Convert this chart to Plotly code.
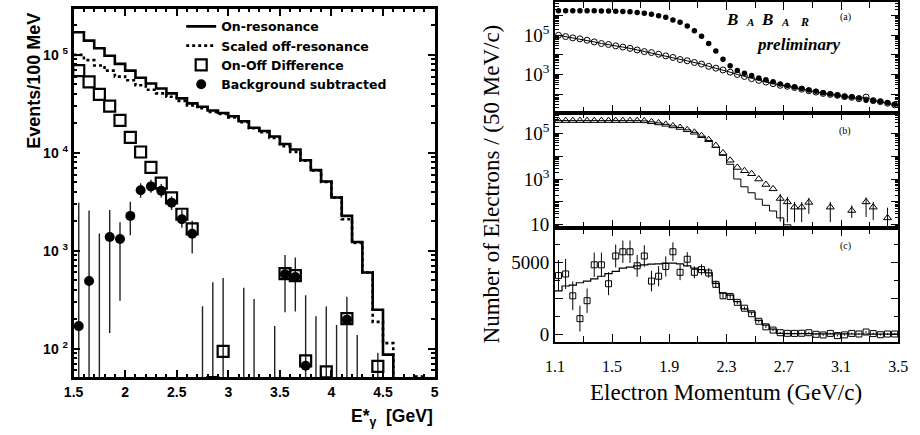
import numpy as np
import plotly.graph_objects as go

# ---------------- Left panel: photon spectrum (0.1 GeV bins) ----------------
on_bin_lo = [1.5, 1.6, 1.7, 1.8, 1.9, 2.0, 2.1, 2.2, 2.3, 2.4, 2.5, 2.6, 2.7, 2.8, 2.9,
             3.0, 3.1, 3.2, 3.3, 3.4, 3.5, 3.6, 3.7, 3.8, 3.9, 4.0, 4.1, 4.2, 4.3, 4.4, 4.5, 4.6]
on_res = [1.70e5, 1.40e5, 1.17e5, 9.8e4, 8.1e4, 6.9e4, 5.85e4, 5.1e4, 4.54e4, 4.05e4,
          3.6e4, 3.2e4, 2.95e4, 2.7e4, 2.55e4, 2.36e4, 2.1e4, 1.8e4, 1.67e4, 1.47e4,
          1.23e4, 1.08e4, 8.4e3, 6.65e3, 5.1e3, 3.5e3, 2.27e3, 1.23e3, 600, 250, 87, 10]

off_bin_lo = [1.5, 1.6, 1.7, 1.8, 1.9, 2.0, 2.1, 2.2, 2.3, 2.4, 2.5, 2.6, 2.7, 2.8, 2.9,
              3.0, 3.1, 3.2, 3.3, 3.4, 3.5, 3.6, 3.7, 3.8, 3.9, 4.0, 4.1, 4.2, 4.3, 4.4, 4.5,
              4.6, 4.7, 4.8, 4.9]
off_res = [1.0e5, 8.85e4, 7.8e4, 6.9e4, 6.0e4, 5.5e4, 4.9e4, 4.4e4, 4.05e4, 3.74e4,
           3.38e4, 3.05e4, 2.85e4, 2.62e4, 2.5e4, 2.3e4, 2.05e4, 1.78e4, 1.62e4, 1.42e4,
           1.17e4, 1.02e4, 8.3e3, 6.6e3, 5.05e3, 3.5e3, 2.1e3, 1.2e3, 600, 188, 114,
           20, 20, 52, 10]

diff_x = [1.55, 1.65, 1.75, 1.85, 1.95, 2.05, 2.15, 2.25, 2.35, 2.45, 2.55, 2.65,
          2.85, 2.95, 3.55, 3.65, 3.75, 3.95, 4.15, 4.45]
diff_y = [6.9e4, 5.3e4, 3.95e4, 3.0e4, 2.14e4, 1.44e4, 1.02e4, 7.1e3, 4.9e3, 3.47e3,
          2.36e3, 1.67e3, 45, 94, 585, 558, 75, 58, 203, 66]

bg_x = [1.55, 1.65, 1.75, 1.85, 1.95, 2.05, 2.15, 2.25, 2.35, 2.45, 2.55, 2.65, 2.75,
        2.85, 2.95, 3.15, 3.25, 3.45, 3.55, 3.65, 3.75, 3.85, 3.95, 4.05, 4.15, 4.25, 4.45]
bg_y = [170, 490, None, 1380, 1320, 2270, 4140, 4540, 4100, 3100, 2100, 1490, None,
        45, None, None, None, None, 575, 540, 67, None, None, None, 198, None, None]
bg_lo = [10, 10, 10, 145, 309, 1440, 3470, 3900, 3500, 2600, 1720, 940, 10,
         10, 10, 10, 10, 10, 236, 240, 10, 10, 10, 10, 10, 10, 10]
bg_hi = [3100, 2570, 1500, 2600, 1950, 3160, 4900, 5300, 4800, 3600, 2600, 2030, 271,
         478, 528, 420, 321, 170, 906, 851, 352, 214, 269, 174, 339, 138, 91]

# ---------------- Right panels: electron momentum (50 MeV/c bins) ----------------
p_centers = [1.125, 1.175, 1.225, 1.275, 1.325, 1.375, 1.425, 1.475, 1.525, 1.575,
             1.625, 1.675, 1.725, 1.775, 1.825, 1.875, 1.925, 1.975, 2.025, 2.075,
             2.125, 2.175, 2.225, 2.275, 2.325, 2.375, 2.425, 2.475, 2.525, 2.575,
             2.625, 2.675, 2.725, 2.775, 2.825, 2.875, 2.925, 2.975, 3.025, 3.075,
             3.125, 3.175, 3.225, 3.275, 3.325, 3.375, 3.425, 3.475]

a_filled = [1.78e6, 1.78e6, 1.78e6, 1.78e6, 1.78e6, 1.78e6, 1.74e6, 1.74e6, 1.70e6, 1.66e6,
            1.58e6, 1.48e6, 1.32e6, 1.17e6, 1.0e6, 8.3e5, 6.0e5, 4.7e5, 3.0e5, 1.7e5,
            8.9e4, 3.8e4, 1.6e4, 6.0e3, 2.8e3, 1.6e3, 1.17e3, 890, 660, 540,
            420, 330, 275, 230, 190, 162, 138, 117, 100, 88,
            76, 70, 62, 48, 47, 42, 36, 30]
a_open = [1.0e5, 8.6e4, 7.4e4, 6.6e4, 5.6e4, 4.6e4, 3.8e4, 3.4e4, 2.9e4, 2.5e4,
          2.15e4, 1.78e4, 1.47e4, 1.31e4, 1.08e4, 8.9e3, 7.4e3, 5.8e3, 5.0e3, 4.1e3,
          3.4e3, 2.6e3, 2.1e3, 1.7e3, 1.31e3, 1.0e3, 790, 610, 500, 410,
          340, 280, 250, 215, 178, 147, 126, 108, 96, 86,
          74, 68, 58, 70, 46, 41, 34, 28]

b_tri = [3.57e5, 3.57e5, 3.57e5, 3.57e5, 3.57e5, 3.57e5, 3.57e5, 3.57e5, 3.57e5, 3.57e5,
         3.57e5, 3.57e5, 3.47e5, 3.16e5, 2.82e5, 2.45e5, 2.09e5, 1.78e5, 1.41e5, 1.10e5,
         7.8e4, 5.2e4, 2.9e4, 1.38e4, 6.6e3, 3.2e3, 2.3e3, 1.7e3, 1.0e3, 575,
         372, 141, 100, 59, 59, 95, None, None, 59, None,
         None, 42, None, 100, 59, None, 20, None]
b_tri_hi = [None] * 31 + [224, 166, 100, 100, 151, None, None, 100, None,
                          None, 71, None, 158, 100, None, 56, None]
b_tri_lo = [None] * 31 + [13.5, 13, 13, 13, 30, None, None, 13, None,
                          None, 20, None, 22, 16, None, 8, None]
b_hist = [3.57e5, 3.57e5, 3.57e5, 3.57e5, 3.57e5, 3.57e5, 3.57e5, 3.57e5, 3.57e5, 3.57e5,
          3.57e5, 3.57e5, 3.47e5, 3.16e5, 2.82e5, 2.45e5, 2.09e5, 1.78e5, 1.41e5, 1.10e5,
          7.4e4, 4.8e4, 2.45e4, 1.08e4, 4.4e3, 1.0e3, 457, 251, 132, 71,
          40, 20, 10, 1, 1, 1, 1, 1, 1, 1,
          1, 1, 1, 1, 1, 1, 1, 1]

c_sq = [4090, 4204, 2681, 1089, 2340, 4841, 4841, 3522, 5455, 5750,
        5750, 4773, 5455, 3704, 4045, 4727, 5750, 4318, 5227, 4318,
        4502, 4272, 3479, 2681, 2635, 2226, 1817, 1432, 907, 520,
        293, 111, 66, 60, 70, 110, -2, -47, 60, -93,
        -40, 60, 20, 157, 50, -30, 20, 20]
c_err = [1080, 1050, 1000, 900, 850, 850, 850, 800, 800, 780,
         780, 760, 750, 720, 700, 700, 650, 550, 500, 420,
         380, 330, 250, 200, 150, 130, 110, 100, 90, 80,
         70, 60, 60, 60, 60, 60, 60, 60, 60, 60,
         60, 60, 60, 60, 60, 60, 60, 60]
c_hist = [3022, 3363, 3431, 3590, 3704, 3863, 4045, 4227, 4386, 4613,
          4681, 4773, 4841, 4886, 4909, 4954, 4954, 4909, 4773, 4613,
          4500, 4272, 3545, 2863, 2726, 2272, 1771, 1544, 975, 634,
          361, 60, 50, 45, 40, 40, 35, 30, 30, 25,
          25, 20, 20, 20, 15, 15, 10, 10]

# ---------------- helpers ----------------
W, H = 920, 435


def px_x(p):
    return p / W


def px_y(p):
    return 1 - p / H


def hist_xy(lo_edges, vals, width):
    xs = list(lo_edges) + [lo_edges[-1] + width]
    ys = list(vals) + [vals[-1]]
    return xs, ys


def center_hist_xy(centers, vals, width):
    xs = [c - width / 2 for c in centers] + [centers[-1] + width / 2]
    ys = list(vals) + [vals[-1]]
    return xs, ys


def log_minor(d0, d1):
    return [k * 10 ** d for d in range(d0, d1) for k in range(2, 10)]


SANS = "Liberation Sans, Arial, Helvetica, sans-serif"
WIDE = "DejaVu Sans, Verdana, sans-serif"
SERIF = "Liberation Serif, Times New Roman, Times, serif"

fig = go.Figure()

# ---- left panel traces ----
hx, hy = hist_xy(on_bin_lo, on_res, 0.1)
fig.add_trace(go.Scatter(x=hx, y=hy, mode="lines", line=dict(color="black", width=2.6, shape="hv"),
                         name="On-resonance", xaxis="x", yaxis="y"))
ox, oy = hist_xy(off_bin_lo, off_res, 0.1)
fig.add_trace(go.Scatter(x=ox, y=oy, mode="lines",
                         line=dict(color="black", width=2.6, shape="hv", dash="dot"),
                         name="Scaled off-resonance", xaxis="x", yaxis="y"))
ex, ey = [], []
for xv, lo, hi in zip(bg_x, bg_lo, bg_hi):
    ex += [xv, xv, None]
    ey += [lo, hi, None]
fig.add_trace(go.Scatter(x=ex, y=ey, mode="lines", line=dict(color="#222", width=1.4),
                         showlegend=False, hoverinfo="skip", xaxis="x", yaxis="y"))
fig.add_trace(go.Scatter(x=diff_x, y=diff_y, mode="markers",
                         marker=dict(symbol="square-open", size=11, color="black",
                                     line=dict(width=2.2, color="black")),
                         name="On-Off Difference", xaxis="x", yaxis="y"))
fig.add_trace(go.Scatter(x=bg_x, y=bg_y, mode="markers",
                         marker=dict(symbol="circle", size=10, color="black"),
                         name="Background subtracted", xaxis="x", yaxis="y"))

# ---- right panel (a) ----
fig.add_trace(go.Scatter(x=p_centers, y=a_open, mode="lines+markers",
                         line=dict(color="black", width=1),
                         marker=dict(symbol="circle-open", size=6, color="black",
                                     line=dict(width=1)),
                         showlegend=False, xaxis="x2", yaxis="y2"))
fig.add_trace(go.Scatter(x=p_centers, y=a_filled, mode="markers",
                         marker=dict(symbol="circle", size=5.5, color="black"),
                         showlegend=False, xaxis="x2", yaxis="y2"))

# ---- right panel (b) ----
bx, by = center_hist_xy(p_centers, b_hist, 0.05)
fig.add_trace(go.Scatter(x=bx, y=by, mode="lines", line=dict(color="black", width=1, shape="hv"),
                         showlegend=False, xaxis="x3", yaxis="y3"))
plus = [(h - v) if (h is not None and v is not None) else 0 for h, v in zip(b_tri_hi, b_tri)]
minus = [(v - l) if (l is not None and v is not None) else 0 for l, v in zip(b_tri_lo, b_tri)]
fig.add_trace(go.Scatter(x=p_centers, y=b_tri, mode="markers",
                         marker=dict(symbol="triangle-up-open", size=7, color="black",
                                     line=dict(width=1)),
                         error_y=dict(type="data", symmetric=False, array=plus, arrayminus=minus,
                                      color="black", thickness=1, width=0),
                         showlegend=False, xaxis="x3", yaxis="y3"))

# ---- right panel (c) ----
cx, cy = center_hist_xy(p_centers, c_hist, 0.05)
fig.add_trace(go.Scatter(x=cx, y=cy, mode="lines", line=dict(color="black", width=1.2, shape="hv"),
                         showlegend=False, xaxis="x4", yaxis="y4"))
fig.add_trace(go.Scatter(x=p_centers, y=c_sq, mode="markers",
                         marker=dict(symbol="square-open", size=6, color="black",
                                     line=dict(width=1)),
                         error_y=dict(type="data", array=c_err, color="black", thickness=1, width=0),
                         showlegend=False, xaxis="x4", yaxis="y4"))

# ---------------- axes ----------------
left_x = [px_x(65), px_x(434)]
right_x = [px_x(557), px_x(908)]

ax_common = dict(showgrid=False, zeroline=False, showline=True, linecolor="black",
                 mirror="allticks", ticks="inside", tickcolor="black")

fig.update_layout(
    xaxis=dict(**ax_common, domain=left_x, anchor="y", range=[1.5, 5], linewidth=2.5,
               tickvals=[1.5, 2, 2.5, 3, 3.5, 4, 4.5, 5],
               ticktext=["1.5", "2", "2.5", "3", "3.5", "4", "4.5", "5"],
               ticklen=7, tickwidth=1.5,
               minor=dict(ticks="inside", ticklen=3.5, dtick=0.1, tick0=1.5, tickcolor="black"),
               tickfont=dict(family=SANS, size=14, color="black", weight="bold")),
    yaxis=dict(**ax_common, domain=[px_y(383), px_y(7)], anchor="x", type="log",
               range=[1.71, 5.47], linewidth=2.5,
               tickvals=[1e2, 1e3, 1e4, 1e5],
               ticktext=["10 <sup>2</sup>", "10 <sup>3</sup>", "10 <sup>4</sup>", "10 <sup>5</sup>"],
               ticklen=7, tickwidth=1.5,
               minor=dict(ticks="inside", ticklen=3.5, tickvals=log_minor(1, 6), tickcolor="black"),
               tickfont=dict(family=SANS, size=14, color="black", weight="bold")),
)

rx_common = dict(**ax_common, domain=right_x, range=[1.1, 3.5], linewidth=1.5,
                 tick0=1.1, dtick=0.4, ticklen=8, tickwidth=1,
                 minor=dict(ticks="inside", ticklen=6, dtick=0.2, tick0=1.1, tickcolor="black"),
                 tickfont=dict(family=SERIF, size=16, color="black"))

fig.update_layout(
    xaxis2=dict(**rx_common, anchor="y2", showticklabels=False),
    xaxis3=dict(**rx_common, anchor="y3", showticklabels=False),
    xaxis4=dict(**rx_common, anchor="y4", showticklabels=True, tickformat=".1f",
                ticklabelstandoff=9),
    yaxis2=dict(**ax_common, domain=[px_y(113), 1.0], anchor="x2", type="log", range=[1.05, 6.7],
                linewidth=1.5, tickvals=[1e2, 1e3, 1e4, 1e5, 1e6],
                ticktext=["", "10<sup>3</sup>", "", "10<sup>5</sup>", ""],
                ticklen=8, minor=dict(ticks="inside", ticklen=4, tickvals=log_minor(1, 7), tickcolor="black"),
                tickfont=dict(family=SERIF, size=19, color="black")),
    yaxis3=dict(**ax_common, domain=[px_y(231), px_y(113)], anchor="x3", type="log", range=[0.85, 5.9],
                linewidth=1.5, tickvals=[1e1, 1e2, 1e3, 1e4, 1e5],
                ticktext=["10", "", "10<sup>3</sup>", "", "10<sup>5</sup>"],
                ticklen=8, minor=dict(ticks="inside", ticklen=4, tickvals=log_minor(0, 6), tickcolor="black"),
                tickfont=dict(family=SERIF, size=19, color="black")),
    yaxis4=dict(**ax_common, domain=[px_y(347), px_y(231)], anchor="x4", range=[-525, 7390],
                linewidth=1.5, tickvals=[0, 2500, 5000, 7500], ticktext=["0", "", "5000", ""],
                ticklen=8, minor=dict(ticks="inside", ticklen=5, dtick=1250, tick0=0, tickcolor="black"),
                tickfont=dict(family=SERIF, size=19, color="black")),
)

# ---------------- annotations ----------------
ann = []


def note(text, x, y, size, family, angle=0, xanchor="center"):
    ann.append(dict(text=text, x=px_x(x), y=px_y(y), xref="paper", yref="paper",
                    xanchor=xanchor, yanchor="middle", textangle=angle, showarrow=False,
                    font=dict(family=family, size=size, color="black")))


note("<b>Events/100 MeV</b>", 25, 80, 18, SANS, angle=-90)
note("<b>E*<sub>γ</sub>  [GeV]</b>", 434, 424, 17.5, SANS, xanchor="right")
note("Number of Electrons / (50 MeV/c)", 492, 186, 23, SERIF, angle=-90)
note("Electron Momentum (GeV/c)", 732, 399, 23, SERIF)
for lab, yy in [("(a)", 15), ("(b)", 132), ("(c)", 249)]:
    note(lab, 854, yy, 10, SERIF)
for letter, xx, sz, yy in [("B", 738, 17, 18), ("A", 756, 11, 20), ("B", 774, 17, 18),
                           ("A", 792, 11, 20), ("R", 812, 12, 20)]:
    note("<b><i>%s</i></b>" % letter, xx, yy, sz, SERIF)
note("<b><i>preliminary</i></b>", 806, 43, 17, SERIF)

fig.update_layout(
    width=W, height=H, autosize=False,
    margin=dict(l=0, r=0, t=0, b=0),
    paper_bgcolor="white", plot_bgcolor="white",
    annotations=ann,
    showlegend=True,
    legend=dict(x=px_x(175), y=px_y(10), xanchor="left", yanchor="top",
                bgcolor="rgba(0,0,0,0)", borderwidth=0, itemwidth=30,
                tracegroupgap=0,
                font=dict(family=WIDE, size=12.5, color="black", weight="bold")),
)

fig.write_html("out.html", config={"displayModeBar": False},
               post_script="document.body.style.margin='0';document.body.style.overflow='hidden';")
